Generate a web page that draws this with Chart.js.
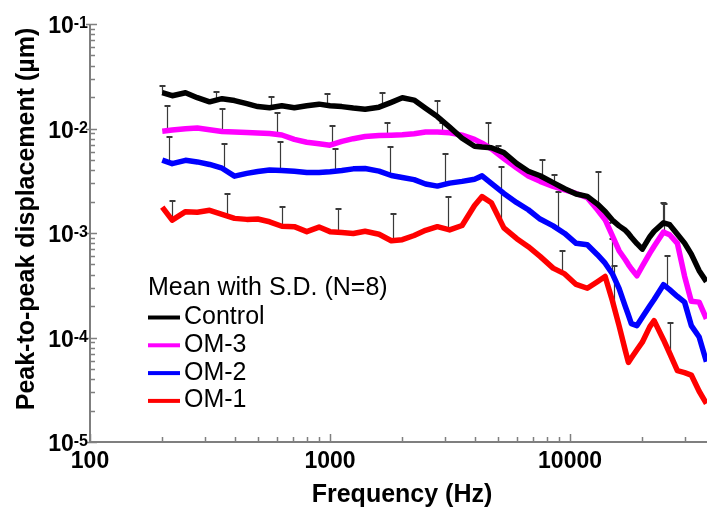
<!DOCTYPE html>
<html>
<head>
<meta charset="utf-8">
<title>Peak-to-peak displacement</title>
<script src="https://cdn.jsdelivr.net/npm/chart.js@4.4.1/dist/chart.umd.min.js"></script>
<style>
  html, body { margin: 0; padding: 0; background: #fff; }
  canvas { display: block; }
</style>
</head>
<body>
<canvas id="chart" width="707" height="508"></canvas>
<script>
// frequency grid (Hz) shared by the four mean curves
const freqs = [200, 220, 250, 280, 315, 355, 400, 450, 500, 560, 630, 710, 800, 900, 1000,
  1120, 1250, 1400, 1600, 1800, 2000, 2240, 2500, 2800, 3150, 3550, 4000, 4300, 4700, 5300,
  6000, 6700, 7500, 8500, 9500, 10600, 11800, 13000, 14000, 15000, 16000, 17000, 17500, 18000,
  19000, 20000, 21500, 22400, 24500, 26000, 28000, 30000, 32000, 34500, 37000];

// mean peak-to-peak displacement (um)
const control = [0.022, 0.0206, 0.022, 0.0197, 0.018, 0.0193, 0.0185, 0.0173, 0.0162, 0.0158, 0.0165,
  0.0158, 0.0165, 0.0171, 0.0165, 0.0162, 0.0157, 0.0153, 0.016, 0.0178, 0.0197, 0.0187, 0.0156,
  0.013, 0.0103, 0.00807, 0.00677, 0.00665, 0.00655, 0.00587, 0.00461, 0.0039, 0.00353, 0.00303,
  0.00265, 0.00236, 0.00224, 0.00189, 0.00161, 0.00133, 0.00117, 0.00106, 0.00099, 0.000912,
  0.00079, 0.0007, 0.000922, 0.00104, 0.00125, 0.0012, 0.000974, 0.0008, 0.000627, 0.000436, 0.000342];

const om3 = [0.00942, 0.00967, 0.00996, 0.0101, 0.00974, 0.00938, 0.00926, 0.00914, 0.00904, 0.00896,
  0.00867, 0.00787, 0.00739, 0.00715, 0.00692, 0.00752, 0.00799, 0.00837, 0.00857, 0.00863, 0.00871,
  0.00892, 0.00924, 0.00928, 0.00912, 0.00865, 0.00787, 0.00723, 0.00638, 0.00516, 0.00418, 0.00351,
  0.00312, 0.00279, 0.00258, 0.00239, 0.00218, 0.00167, 0.00134, 0.000942, 0.000677, 0.000555,
  0.000499, 0.000455, 0.00039, 0.000481, 0.000641, 0.000747, 0.00102, 0.000963, 0.000795, 0.000386,
  0.000222, 0.000218, 0.000151];

const om2 = [0.00499, 0.00461, 0.00496, 0.00479, 0.00453, 0.00417, 0.0035, 0.00372, 0.00387, 0.00401,
  0.00397, 0.00389, 0.00379, 0.00379, 0.00386, 0.00396, 0.00411, 0.00414, 0.00391, 0.00355, 0.0034,
  0.00324, 0.00294, 0.00281, 0.003, 0.00312, 0.00327, 0.00352, 0.00298, 0.00239, 0.00195, 0.00167,
  0.00136, 0.00117, 0.00099, 0.000797, 0.000773, 0.00062, 0.000514, 0.000408, 0.000295, 0.000197,
  0.000164, 0.000136, 0.00013, 0.000156, 0.000201, 0.000231, 0.00032, 0.000287, 0.000247, 0.000218,
  0.00013, 0.000101, 0.0000587];

const om1 = [0.00177, 0.00133, 0.0016, 0.00158, 0.00165, 0.00151, 0.00138, 0.00135, 0.00136, 0.00128,
  0.00116, 0.00115, 0.00103, 0.00114, 0.00103, 0.00101, 0.000989, 0.00104, 0.000974, 0.000844,
  0.000863, 0.000946, 0.00106, 0.00115, 0.00107, 0.00118, 0.00183, 0.00223, 0.00195, 0.00112,
  0.000882, 0.000739, 0.000597, 0.000461, 0.000406, 0.000322, 0.000296, 0.000342, 0.000384,
  0.000226, 0.00013, 0.0000747, 0.0000578, 0.0000637, 0.0000764, 0.0000902, 0.000127, 0.000145,
  0.0000953, 0.0000707, 0.0000481, 0.0000461, 0.0000437, 0.0000306, 0.0000233];

// S.D. bars: frequency, mean (bar foot) and mean + S.D. (bar top)
const controlSdFreq = [200, 335, 570, 970, 1640, 2780, 4540, 7660, 13050, 24480];
const controlSdLow = [0.0218, 0.0187, 0.016, 0.0165, 0.0163, 0.013, 0.00662, 0.00346, 0.00189, 0.00125];
const controlSdHigh = [0.0257, 0.0222, 0.020, 0.0212, 0.0219, 0.0182, 0.0113, 0.00503, 0.0038, 0.00194];

const om3SdFreq = [209, 354, 600, 1017, 1734, 2938, 5012, 8577, 14441, 24640];
const om3SdLow = [0.00953, 0.00938, 0.00882, 0.0070, 0.00861, 0.00922, 0.00587, 0.00277, 0.00115, 0.00105];
const om3SdHigh = [0.0165, 0.0154, 0.0141, 0.0105, 0.0114, 0.0114, 0.00674, 0.00361, 0.00125, 0.00189];

const om2SdFreq = [213, 363, 619, 1049, 1778, 3015, 8941, 14920, 25286];
const om2SdLow = [0.00471, 0.00408, 0.00398, 0.0039, 0.00359, 0.00292, 0.00112, 0.000417, 0.000303];
const om2SdHigh = [0.00829, 0.00711, 0.00736, 0.00637, 0.00659, 0.00574, 0.00245, 0.000876, 0.000606];

const om1SdFreq = [219, 371, 629, 1077, 1835, 3112, 5144, 9235, 15295, 26100];
const om1SdLow = [0.00133, 0.00146, 0.00116, 0.00102, 0.000844, 0.00109, 0.00131, 0.000417, 0.000193, 0.00007];
const om1SdHigh = [0.00201, 0.00238, 0.00177, 0.00171, 0.00152, 0.00219, 0.00424, 0.000677, 0.00048, 0.000138];

// axes
const xMajorTicks = [100, 1000, 10000];
const xMinorTicks = [200, 300, 400, 500, 600, 700, 800, 900, 2000, 3000, 4000, 5000, 6000, 7000,
  8000, 9000, 20000, 30000];
const yMajorTicks = [1e-1, 1e-2, 1e-3, 1e-4, 1e-5];
const yExponents = ['-1', '-2', '-3', '-4', '-5'];
const yMantissas = [2, 3, 4, 5, 6, 7, 8, 9];

const legendTitle = 'Mean with S.D. (N=8)';
const FONT = '"Liberation Sans", Arial, Helvetica, sans-serif';
const AXIS_GREY = '#7f7f7f';

const toPoints = vals => vals.map((v, i) => ({ x: freqs[i], y: v }));

const sdSets = [
  { freq: controlSdFreq, low: controlSdLow, high: controlSdHigh },
  { freq: om3SdFreq, low: om3SdLow, high: om3SdHigh },
  { freq: om2SdFreq, low: om2SdLow, high: om2SdHigh },
  { freq: om1SdFreq, low: om1SdLow, high: om1SdHigh }
];

const decorPlugin = {
  id: 'decor',
  beforeDatasetsDraw(chart) {
    const { ctx, scales: { x, y } } = chart;
    ctx.save();
    ctx.strokeStyle = '#3a3a3a';
    sdSets.forEach(s => {
      s.freq.forEach((f, i) => {
        const px = Math.round(x.getPixelForValue(f)) + 0.5;
        const yLo = y.getPixelForValue(s.low[i]);
        const yHi = Math.round(y.getPixelForValue(s.high[i]));
        ctx.lineWidth = 1.2;
        ctx.beginPath(); ctx.moveTo(px, yLo); ctx.lineTo(px, yHi); ctx.stroke();
        ctx.lineWidth = 2;
        ctx.beginPath(); ctx.moveTo(px - 3, yHi); ctx.lineTo(px + 3, yHi); ctx.stroke();
      });
    });
    ctx.restore();
  },
  afterDraw(chart) {
    const { ctx, chartArea: a, scales: { x, y } } = chart;
    ctx.save();

    // axis lines
    ctx.strokeStyle = AXIS_GREY;
    ctx.lineWidth = 2;
    ctx.beginPath();
    ctx.moveTo(a.left, a.top);
    ctx.lineTo(a.left, a.bottom);
    ctx.lineTo(a.right, a.bottom);
    ctx.stroke();

    // ticks
    ctx.lineWidth = 1.5;
    ctx.beginPath();
    yMajorTicks.forEach(v => {
      const py = Math.round(y.getPixelForValue(v)) + 0.5;
      ctx.moveTo(a.left - 4, py); ctx.lineTo(a.left + 7, py);
    });
    yMajorTicks.slice(0, -1).forEach(dec => {
      yMantissas.forEach(m => {
        const py = Math.round(y.getPixelForValue(dec / 10 * m)) + 0.5;
        ctx.moveTo(a.left, py); ctx.lineTo(a.left + 5, py);
      });
    });
    xMajorTicks.forEach(v => {
      const px = Math.round(x.getPixelForValue(v)) + 0.5;
      ctx.moveTo(px, a.bottom); ctx.lineTo(px, a.bottom - 8);
    });
    xMinorTicks.forEach(v => {
      const px = Math.round(x.getPixelForValue(v)) + 0.5;
      ctx.moveTo(px, a.bottom); ctx.lineTo(px, a.bottom - 5);
    });
    ctx.stroke();

    // tick labels
    ctx.fillStyle = '#000';
    ctx.textBaseline = 'alphabetic';
    yMajorTicks.forEach((v, i) => {
      const py = y.getPixelForValue(v);
      ctx.textAlign = 'right';
      ctx.font = 'bold 16px ' + FONT;
      const ew = ctx.measureText(yExponents[i]).width;
      ctx.fillText(yExponents[i], 88, py + 4);
      ctx.font = 'bold 23px ' + FONT;
      ctx.fillText('10', 88 - ew, py + 9);
    });
    ctx.font = 'bold 23px ' + FONT;
    ctx.textAlign = 'center';
    xMajorTicks.forEach(v => {
      ctx.fillText(String(v), x.getPixelForValue(v), 468);
    });

    // axis titles
    ctx.font = 'bold 25px ' + FONT;
    ctx.fillText('Frequency (Hz)', 402, 502);
    ctx.save();
    ctx.translate(34, 219);
    ctx.rotate(-Math.PI / 2);
    ctx.fillText('Peak-to-peak displacement (\u00b5m)', 0, 0);
    ctx.restore();

    // legend
    ctx.textAlign = 'left';
    ctx.font = '25px ' + FONT;
    ctx.fillText(legendTitle, 148, 295);
    chart.data.datasets.forEach((ds, i) => {
      const base = 324 + i * 27.8;
      ctx.strokeStyle = ds.borderColor;
      ctx.lineWidth = 4;
      ctx.beginPath();
      ctx.moveTo(148, base - 6.5);
      ctx.lineTo(180, base - 6.5);
      ctx.stroke();
      ctx.fillStyle = '#000';
      ctx.fillText(ds.label, 184, base);
    });

    ctx.restore();
  }
};

const lineStyle = color => ({
  borderColor: color,
  backgroundColor: color,
  borderWidth: 5.5,
  pointRadius: 0,
  tension: 0,
  borderJoinStyle: 'round',
  borderCapStyle: 'butt',
  fill: false
});

new Chart(document.getElementById('chart'), {
  type: 'line',
  data: {
    datasets: [
      { label: 'Control', data: toPoints(control), ...lineStyle('#000000') },
      { label: 'OM-3', data: toPoints(om3), ...lineStyle('#ff00ff') },
      { label: 'OM-2', data: toPoints(om2), ...lineStyle('#0000ff') },
      { label: 'OM-1', data: toPoints(om1), ...lineStyle('#ff0000') }
    ]
  },
  options: {
    responsive: false,
    animation: false,
    layout: { padding: { left: 90, top: 24, right: 0, bottom: 66 } },
    plugins: {
      legend: { display: false },
      tooltip: { enabled: false }
    },
    scales: {
      x: { type: 'logarithmic', min: 100, max: 37200, display: false },
      y: { type: 'logarithmic', min: 1e-5, max: 1e-1, display: false }
    }
  },
  plugins: [decorPlugin]
});
</script>
</body>
</html>
